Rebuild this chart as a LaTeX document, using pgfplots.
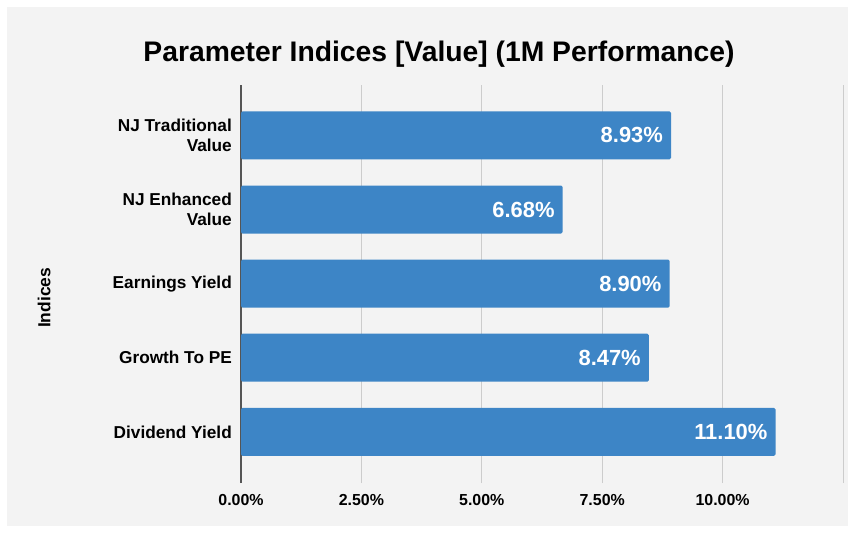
\documentclass[border=0pt]{standalone}
\usepackage{fontspec}
\setmainfont{Liberation Sans}
\usepackage{pgfplots}
\pgfplotsset{compat=1.18}
\definecolor{bg}{HTML}{F3F3F3}
\definecolor{barblue}{HTML}{3D85C6}
\definecolor{gridgray}{HTML}{CCCCCC}
\definecolor{axisgray}{HTML}{555555}
\begin{document}
\begin{tikzpicture}
\useasboundingbox (0bp,0bp) rectangle (855bp,533bp);
\fill[white] (0bp,0bp) rectangle (855bp,533bp);
\fill[bg] (7bp,7bp) rectangle (848bp,526bp);
\begin{axis}[
  at={(241bp,50bp)}, anchor=south west,
  scale only axis, width=602bp, height=398bp,
  xbar, bar width=48bp,
  xmin=0, xmax=12.5, ymin=-0.69, ymax=4.68,
  axis line style={draw=none},
  major tick length=0pt,
  xtick={2.5,5,7.5,10,12.5},
  xticklabels={2.50\%,5.00\%,7.50\%,10.00\%,{}},
  extra x ticks={0},
  extra x tick labels={0.00\%},
  extra x tick style={grid style={axisgray, line width=1.5bp}},
  xmajorgrids,
  grid style={gridgray, line width=1bp},
  ytick={0,1,2,3,4},
  yticklabels={Dividend Yield, Growth To PE, Earnings Yield, {NJ Enhanced\\Value}, {NJ Traditional\\Value}},
  yticklabel style={font=\fontsize{17.3}{20}\selectfont\bfseries, align=right, inner sep=0pt, xshift=-9bp},
  xticklabel style={font=\fontsize{16}{20}\selectfont\bfseries, inner sep=0pt, yshift=-11bp},
  title={Parameter Indices [Value] (1M Performance)},
  title style={at={(axis description cs:0.329,1.063)}, anchor=center, font=\fontsize{28.4}{32}\selectfont\bfseries},
  ylabel={Indices},
  ylabel style={at={(axis description cs:-0.327,0.465)}, anchor=center, font=\fontsize{17.5}{20}\selectfont\bfseries},
  point meta=x,
  nodes near coords={\pgfmathprintnumber[fixed,fixed zerofill,precision=2,assume math mode=true]{\pgfplotspointmeta}\%},
  every node near coord/.append style={anchor=east, xshift=-8bp, inner sep=0pt, text=white, font=\fontsize{22}{24}\selectfont\bfseries},
]
\addplot[fill=barblue, draw=none, rounded corners=1.5bp] coordinates {(11.10,0) (8.47,1) (8.90,2) (6.68,3) (8.93,4)};
\end{axis}
\end{tikzpicture}
\end{document}
